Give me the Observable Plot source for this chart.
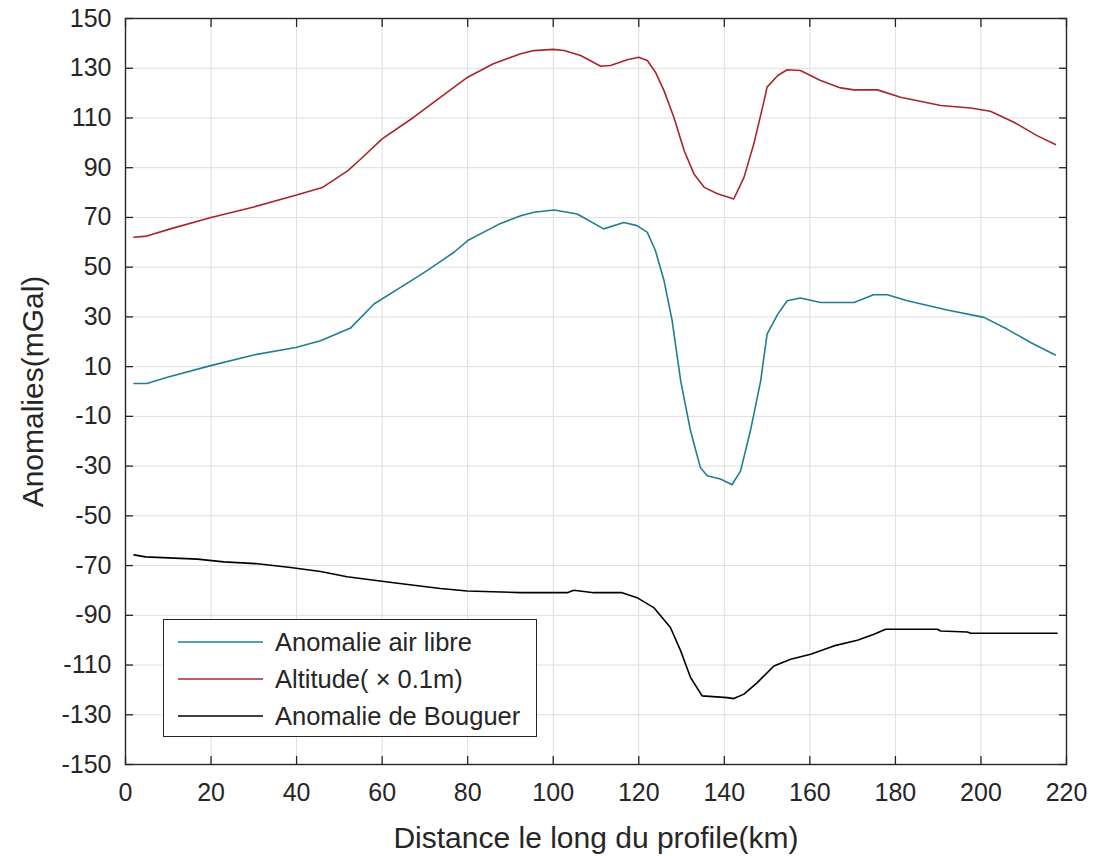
<!DOCTYPE html>
<html>
<head>
<meta charset="utf-8">
<script src="https://cdn.jsdelivr.net/npm/d3@7"></script>
<script src="https://cdn.jsdelivr.net/npm/@observablehq/plot@0.6"></script>
<style>
  html, body { margin: 0; padding: 0; background: #fff; }
  #wrap { position: relative; width: 1096px; height: 856px; font-family: "Liberation Sans", Arial, sans-serif; }
  #legend { position: absolute; left: 163px; top: 619px; width: 374px; height: 118px; border: 1px solid #262626; background: #fff; box-sizing: border-box; }
  .row { position: absolute; left: 0; height: 30px; display: flex; align-items: center; font-size: 25.5px; color: #262626; white-space: nowrap; }
  .row svg { margin-left: 14px; margin-right: 12px; }
</style>
</head>
<body>
<div id="wrap"></div>
<script>
// ---- data ----
const xTicks = [0, 20, 40, 60, 80, 100, 120, 140, 160, 180, 200, 220];
const yTicks = [-150, -130, -110, -90, -70, -50, -30, -10, 10, 30, 50, 70, 90, 110, 130, 150];

const seriesNames = ["Anomalie air libre", "Altitude( \u00d7 0.1m)", "Anomalie de Bouguer"];
const seriesColors = ["#1f7f8e", "#a8262a", "#000000"];

const airLibreKm = [2, 5, 10, 19.9, 30, 39.8, 45.6, 52.6, 58.1, 64.3, 67.4, 70.5, 76.8, 80, 87.7, 92.4, 95.5, 100.2, 105.6, 111.8, 116.5, 119.6, 122, 123.9, 125.9, 127.8, 129.8, 132.1, 134.4, 136, 139.1, 141.8, 143.8, 146.1, 148.5, 150, 152.5, 154.7, 157.8, 162.5, 170.3, 174.9, 178.1, 182.8, 192.1, 200.7, 206.1, 211.6, 217.4];
const airLibreVal = [3.2, 3.2, 5.8, 10.4, 14.7, 17.7, 20.4, 25.5, 35.2, 41.9, 45.2, 48.6, 56, 60.7, 67.6, 70.7, 72.1, 73, 71.4, 65.4, 68, 66.7, 64, 56.6, 44.6, 28.5, 4.3, -15.8, -30.6, -33.9, -35.2, -37.5, -31.9, -15.8, 4.3, 23.1, 31.1, 36.5, 37.6, 35.8, 35.8, 38.9, 38.9, 36.5, 32.8, 29.8, 25.1, 19.7, 14.7];

const altitudeKm = [2, 5, 10.5, 20, 30, 40, 46, 52, 55, 60, 67.4, 73.6, 80, 86, 92.4, 95.5, 100, 102.5, 106.4, 111.1, 113.4, 117.3, 120, 122, 123.9, 125.9, 128.2, 130.6, 132.9, 135.3, 138.4, 141.5, 142.2, 144.6, 146.9, 149.3, 150, 152.5, 154.7, 157.8, 162.5, 167.2, 170.3, 175.8, 181.2, 190.6, 197.6, 202.2, 207.7, 213.1, 217.4];
const altitudeVal = [62, 62.5, 65.4, 70, 74.2, 79, 82, 88.8, 93.5, 101.6, 110.3, 118.3, 126.4, 131.8, 135.8, 137.1, 137.6, 137.1, 135.1, 130.8, 131.1, 133.4, 134.4, 133.1, 128.4, 121, 110.3, 96.9, 87.5, 82.1, 79.5, 77.8, 77.4, 86.1, 99.6, 117, 122.4, 127.1, 129.4, 129.1, 125.1, 122.1, 121.3, 121.3, 118.3, 115, 114, 112.7, 108.3, 102.9, 99.3];

const bouguerKm = [2, 4.7, 16.8, 23, 30.4, 38.6, 45.6, 51.8, 60.4, 67.4, 73.6, 79.9, 92.4, 103.3, 104.8, 109.5, 116.1, 119.6, 123.5, 127.4, 129.8, 132.1, 134.8, 140.7, 142.2, 144.6, 147.7, 151.6, 155.5, 160.2, 165.6, 171.1, 175, 177.7, 189.8, 190.6, 196.8, 197.6, 217.8];
const bouguerVal = [-65.7, -66.5, -67.4, -68.5, -69.2, -70.8, -72.4, -74.5, -76.4, -77.9, -79.2, -80.2, -80.9, -80.9, -79.9, -80.9, -80.9, -82.9, -86.9, -94.9, -104.3, -115, -122.4, -123.1, -123.5, -121.7, -117.1, -110.4, -107.7, -105.7, -102.3, -100, -97.6, -95.6, -95.6, -96.3, -96.7, -97.2, -97.2];

const xLabel = "Distance le long du profile(km)";
const yLabel = "Anomalies(mGal)";

// ---- build ----
const toRows = (km, val) => km.map((k, i) => ({km: k, v: val[i]}));
const airRows = toRows(airLibreKm, airLibreVal);
const altRows = toRows(altitudeKm, altitudeVal);
const bouRows = toRows(bouguerKm, bouguerVal);

const axisColor = "#262626";
const fontFamily = "Liberation Sans, Arial, sans-serif";
const plainFormat = d => String(d); // hyphen-minus like the original

const chart = Plot.plot({
  width: 1096,
  height: 856,
  marginTop: 18,
  marginBottom: 92,
  marginLeft: 125,
  marginRight: 30,
  style: {fontFamily, fontSize: "25px", color: axisColor, background: "#fff"},
  x: {domain: [0, 220], ticks: xTicks},
  y: {domain: [-150, 150], ticks: yTicks},
  marks: [
    Plot.gridX(xTicks, {stroke: "#dedede", strokeOpacity: 1, strokeWidth: 1}),
    Plot.gridY(yTicks, {stroke: "#dedede", strokeOpacity: 1, strokeWidth: 1}),
    Plot.lineY(bouRows, {x: "km", y: "v", stroke: seriesColors[2], strokeWidth: 1.6}),
    Plot.lineY(altRows, {x: "km", y: "v", stroke: seriesColors[1], strokeWidth: 1.6}),
    Plot.lineY(airRows, {x: "km", y: "v", stroke: seriesColors[0], strokeWidth: 1.6}),
    // tick labels
    Plot.axisX(xTicks, {anchor: "bottom", tickSize: 0, tickPadding: 19, tickFormat: plainFormat, label: null, fontSize: 25, fill: axisColor}),
    Plot.axisY(yTicks, {anchor: "left", tickSize: 0, tickPadding: 14, tickFormat: plainFormat, label: null, fontSize: 25, fill: axisColor}),
    // inward ticks on all sides
    Plot.axisX(xTicks, {anchor: "bottom", tickSize: -8, tickFormat: () => "", label: null, stroke: axisColor, strokeWidth: 1.3}),
    Plot.axisX(xTicks, {anchor: "top", tickSize: -8, tickFormat: () => "", label: null, stroke: axisColor, strokeWidth: 1.3}),
    Plot.axisY(yTicks, {anchor: "left", tickSize: -8, tickFormat: () => "", label: null, stroke: axisColor, strokeWidth: 1.3}),
    Plot.axisY(yTicks, {anchor: "right", tickSize: -8, tickFormat: () => "", label: null, stroke: axisColor, strokeWidth: 1.3}),
    Plot.frame({stroke: axisColor, strokeWidth: 1.4}),
    // axis titles
    Plot.text([xLabel], {frameAnchor: "bottom", textAnchor: "middle", lineAnchor: "middle", dy: 74, fontSize: 30, fill: axisColor}),
    Plot.text([yLabel], {frameAnchor: "left", textAnchor: "middle", lineAnchor: "middle", dx: -92, rotate: -90, fontSize: 30, fill: axisColor})
  ]
});

const wrap = document.getElementById("wrap");
wrap.appendChild(chart);

// legend (HTML overlay)
const legend = document.createElement("div");
legend.id = "legend";
const rowTops = [7, 44, 81];
seriesNames.forEach((name, i) => {
  const row = document.createElement("div");
  row.className = "row";
  row.style.top = rowTops[i] + "px";
  row.innerHTML = `<svg width="85" height="4"><line x1="0" y1="2" x2="85" y2="2" stroke="${seriesColors[i]}" stroke-width="1.6"/></svg><span>${name}</span>`;
  legend.appendChild(row);
});
wrap.appendChild(legend);
</script>
</body>
</html>
